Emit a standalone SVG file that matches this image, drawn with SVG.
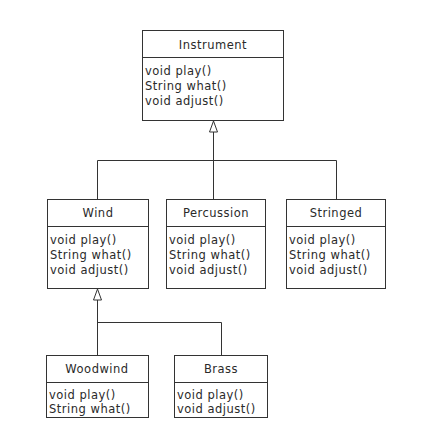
<svg xmlns="http://www.w3.org/2000/svg" width="439" height="439" viewBox="0 0 439 439">
<style>
  .box{fill:#fff;stroke:#333;stroke-width:1}
  .sep{stroke:#333;stroke-width:1}
  .conn{fill:none;stroke:#333;stroke-width:1}
  .tri{fill:#fff;stroke:#333;stroke-width:1}
  text{font-family:"DejaVu Sans","Liberation Sans",sans-serif;font-size:11.5px;letter-spacing:0.5px;fill:#2a2a2a}
  .title{text-anchor:middle}
</style>
<rect width="439" height="439" fill="#fff"/>
<g id="connectors">
  <path class="conn" d="M213.5,132 V199.5 M97.5,160.5 H336.5 M97.5,160.5 V199.5 M336.5,160.5 V199.5"/>
  <polygon class="tri" points="213.5,121 209.5,132 217.5,132"/>
  <path class="conn" d="M97.5,300 V355.5 M97.5,322.5 H221.5 V355.5"/>
  <polygon class="tri" points="97.5,289 93.5,300 101.5,300"/>
</g>
<g id="Instrument">
  <rect class="box" x="142.5" y="30.5" width="141" height="90"/>
  <line class="sep" x1="142.5" y1="57.5" x2="283.5" y2="57.5"/>
  <text class="title" x="213" y="49">Instrument</text>
  <text x="145" y="74.5">void play()</text>
  <text x="145" y="89.5">String what()</text>
  <text x="145" y="104.5">void adjust()</text>
</g>
<g id="Wind">
  <rect class="box" x="47.5" y="199.5" width="101" height="89"/>
  <line class="sep" x1="47.5" y1="226.5" x2="148.5" y2="226.5"/>
  <text class="title" x="98" y="217">Wind</text>
  <text x="50" y="243.5">void play()</text>
  <text x="50" y="258.5">String what()</text>
  <text x="50" y="273.5">void adjust()</text>
</g>
<g id="Percussion">
  <rect class="box" x="166.5" y="199.5" width="99" height="89"/>
  <line class="sep" x1="166.5" y1="226.5" x2="265.5" y2="226.5"/>
  <text class="title" x="216" y="217">Percussion</text>
  <text x="169" y="243.5">void play()</text>
  <text x="169" y="258.5">String what()</text>
  <text x="169" y="273.5">void adjust()</text>
</g>
<g id="Stringed">
  <rect class="box" x="286.5" y="199.5" width="99" height="89"/>
  <line class="sep" x1="286.5" y1="226.5" x2="385.5" y2="226.5"/>
  <text class="title" x="336" y="217">Stringed</text>
  <text x="289" y="243.5">void play()</text>
  <text x="289" y="258.5">String what()</text>
  <text x="289" y="273.5">void adjust()</text>
</g>
<g id="Woodwind">
  <rect class="box" x="46.5" y="355.5" width="102" height="62"/>
  <line class="sep" x1="46.5" y1="382.5" x2="148.5" y2="382.5"/>
  <text class="title" x="97" y="373">Woodwind</text>
  <text x="49" y="398.5">void play()</text>
  <text x="49" y="413">String what()</text>
</g>
<g id="Brass">
  <rect class="box" x="174.5" y="355.5" width="93" height="62"/>
  <line class="sep" x1="174.5" y1="382.5" x2="267.5" y2="382.5"/>
  <text class="title" x="221" y="373">Brass</text>
  <text x="177" y="398.5">void play()</text>
  <text x="177" y="413">void adjust()</text>
</g>
</svg>
